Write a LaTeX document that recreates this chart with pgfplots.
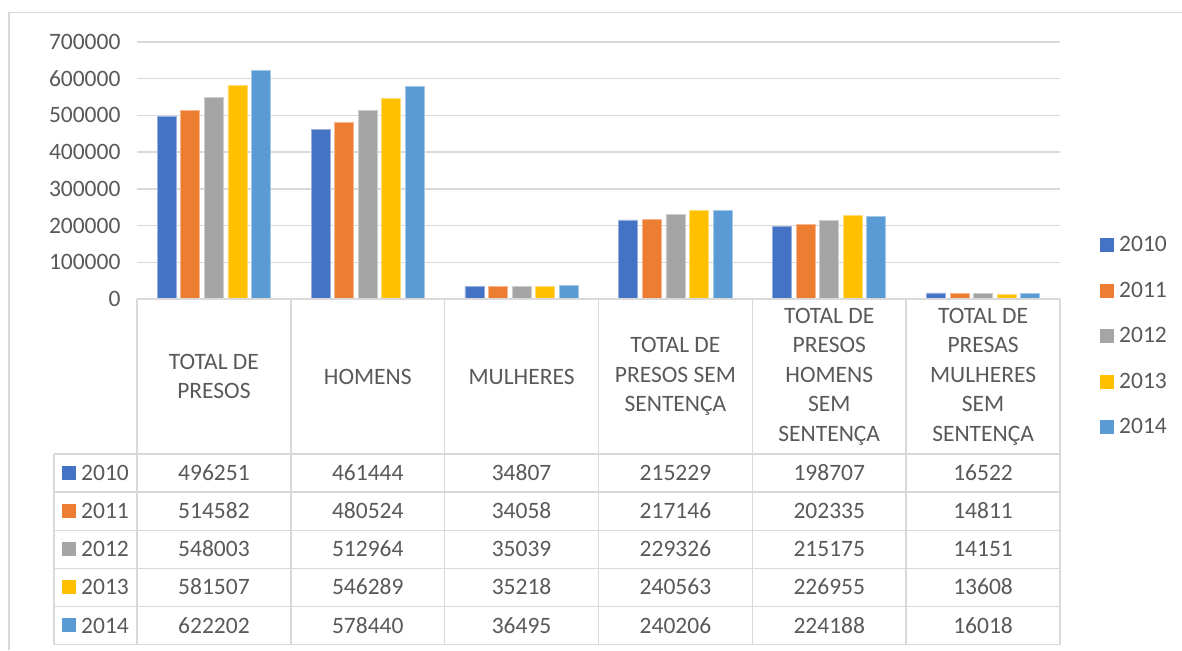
\documentclass[border=0pt]{standalone}
\usepackage{pgfplots}
\pgfplotsset{compat=1.18}
\usepackage{pgfplotstable}
\usepackage{fontspec}
\setmainfont{Carlito}
\definecolor{c2010}{HTML}{4472C4}
\definecolor{c2011}{HTML}{ED7D31}
\definecolor{c2012}{HTML}{A5A5A5}
\definecolor{c2013}{HTML}{FFC000}
\definecolor{c2014}{HTML}{5B9BD5}
\definecolor{txt}{HTML}{595959}
\definecolor{grd}{HTML}{D9D9D9}
\newcommand{\cf}{\fontsize{23.5pt}{29.5pt}\selectfont}

\pgfplotstableread{
x y2010 y2011 y2012 y2013 y2014
0 496251 514582 548003 581507 622202
1 461444 480524 512964 546289 578440
2 34807 34058 35039 35218 36495
3 215229 217146 229326 240563 240206
4 198707 202335 215175 226955 224188
5 16522 14811 14151 13608 16018
}\data

\begin{document}
\begin{tikzpicture}[x=1pt,y=1pt]
\useasboundingbox (0,0) rectangle (1182,-650);
\draw[grd,line width=1.5pt] (9,-650) -- (9,-12.7) -- (1182,-12.7);
\begin{axis}[at={(137pt,-299pt)},anchor=south west,scale only axis,
  width=923pt,height=257pt,
  xmin=-0.5,xmax=5.5,ymin=0,ymax=700000,
  ybar=4.55pt, bar width=19pt,
  axis line style={draw=none}, xtick=\empty,
  ytick={0,100000,200000,300000,400000,500000,600000,700000},
  ymajorgrids, grid style={grd,line width=1.5pt}, major tick length=0pt,
  scaled y ticks=false,
  /pgf/number format/fixed,
  /pgf/number format/precision=0,
  /pgf/number format/1000 sep={},
  /pgf/number format/assume math mode=true,
  yticklabel style={font=\cf,text=txt,xshift=-13pt},
  legend image code/.code={\fill[#1,draw=none] (0pt,-8pt) rectangle (14pt,6pt);},
  legend style={at={(1.04334,-0.142)},anchor=west,draw=none,fill=none,inner sep=0pt,
    font=\cf,text=txt,row sep=30pt,column sep=5pt,
    nodes={inner sep=0pt,text height=15pt,text depth=0pt}},
  clip=false,
]
\addplot[fill=c2010,draw=c2010!55!white,line width=0.8pt] table[x=x,y=y2010]{\data};
\addplot[fill=c2011,draw=c2011!55!white,line width=0.8pt] table[x=x,y=y2011]{\data};
\addplot[fill=c2012,draw=c2012!55!white,line width=0.8pt] table[x=x,y=y2012]{\data};
\addplot[fill=c2013,draw=c2013!55!white,line width=0.8pt] table[x=x,y=y2013]{\data};
\addplot[fill=c2014,draw=c2014!55!white,line width=0.8pt] table[x=x,y=y2014]{\data};
\legend{2010,2011,2012,2013,2014}
\end{axis}
% data table grid
\begin{scope}[grd,line width=1.5pt]
\foreach \i in {0,...,6} {\draw ({137+153.833*\i},-299) -- ({137+153.833*\i},-644.7);}
\draw (54,-454) -- (54,-644.7);
\foreach \j in {0,...,5} {\draw (54,{-454-38.14*\j}) -- (1060,{-454-38.14*\j});}
\draw (137,-299) -- (1060,-299);
\end{scope}
% category headers
\foreach \i/\t in {0/{TOTAL DE\\PRESOS},1/{HOMENS},2/{MULHERES},3/{TOTAL DE\\PRESOS SEM\\SENTENÇA},4/{TOTAL DE\\PRESOS\\HOMENS\\SEM\\SENTENÇA},5/{TOTAL DE\\PRESAS\\MULHERES\\SEM\\SENTENÇA}}
  {\node[align=center,font=\cf,text=txt,inner sep=0pt] at ({213.92+153.833*\i},-376.5) {\t};}
% table rows
\foreach \r/\yr in {0/2010,1/2011,2/2012,3/2013,4/2014}{
  \fill[c\yr] (62,{-465.5-38.14*\r}) rectangle (76,{-479.5-38.14*\r});
  \node[anchor=base west,font=\cf,text=txt,inner sep=0pt] at (81,{-480.5-38.14*\r}) {\yr};
  \foreach \k in {0,...,5}{
    \pgfplotstablegetelem{\k}{y\yr}\of\data
    \node[anchor=base,font=\cf,text=txt,inner sep=0pt] at ({213.92+153.833*\k},{-480.5-38.14*\r}) {\pgfplotsretval};
  }
}
\end{tikzpicture}
\end{document}
